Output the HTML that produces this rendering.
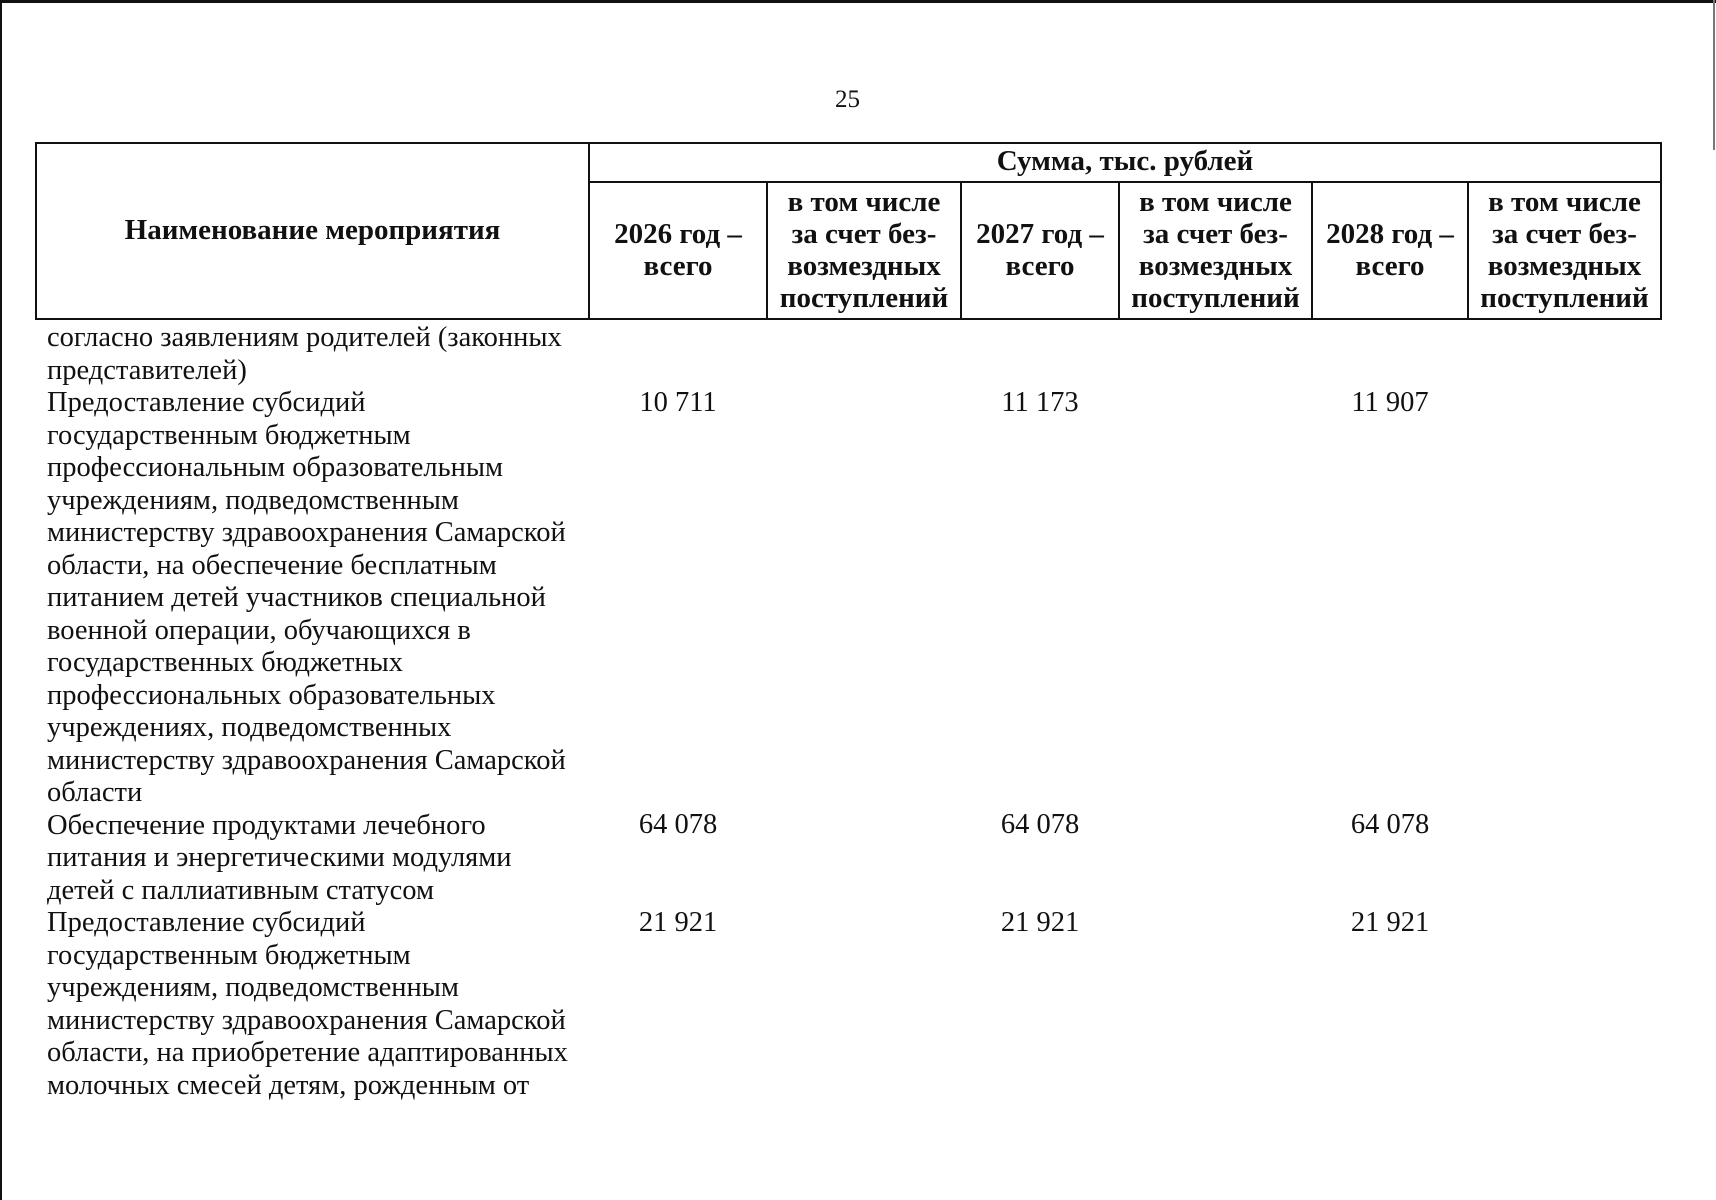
<!DOCTYPE html>
<html><head><meta charset="utf-8"><style>
body{margin:0;width:1716px;height:1200px;background:#fff;position:relative;overflow:hidden;font-family:"Liberation Serif","DejaVu Serif",serif;color:#111}
.a{position:absolute}
.l{position:absolute;background:#111}
.h{position:absolute;font-weight:bold;font-size:29px;line-height:32px;text-align:center;white-space:nowrap}
.body{position:absolute;left:47px;top:322px;font-size:28.5px;line-height:32.5px;white-space:pre}
.n{position:absolute;font-size:28.5px;line-height:32.5px;width:160px;text-align:center}
</style></head><body>
<div class="l" style="left:0;top:0;width:1716px;height:3px"></div>
<div class="l" style="left:0;top:0;width:2px;height:1200px"></div>
<div class="l" style="left:1713px;top:0;width:2px;height:150px;background:#777"></div>
<div class="a" style="left:835px;top:86px;font-size:25px">25</div>
<div class="l" style="left:35px;top:142px;width:1627px;height:2px"></div>
<div class="l" style="left:589px;top:181px;width:1073px;height:2px"></div>
<div class="l" style="left:35px;top:318px;width:1627px;height:2px"></div>
<div class="l" style="left:35px;top:142px;width:2px;height:178px"></div>
<div class="l" style="left:1660px;top:142px;width:2px;height:178px"></div>
<div class="l" style="left:588px;top:142px;width:2px;height:178px"></div>
<div class="l" style="left:766px;top:182px;width:2px;height:138px"></div>
<div class="l" style="left:960px;top:182px;width:2px;height:138px"></div>
<div class="l" style="left:1118px;top:182px;width:2px;height:138px"></div>
<div class="l" style="left:1311px;top:182px;width:2px;height:138px"></div>
<div class="l" style="left:1467px;top:182px;width:2px;height:138px"></div>
<div class="h" style="left:37px;width:551px;top:214px">Наименование мероприятия</div>
<div class="h" style="left:590px;width:1070px;top:145px">Сумма, тыс. рублей</div>
<div class="h" style="left:590px;width:176px;top:218px">2026 год –<br>всего</div>
<div class="h" style="left:768px;width:192px;top:186px">в том числе<br>за счет без-<br>возмездных<br>поступлений</div>
<div class="h" style="left:962px;width:156px;top:218px">2027 год –<br>всего</div>
<div class="h" style="left:1120px;width:191px;top:186px">в том числе<br>за счет без-<br>возмездных<br>поступлений</div>
<div class="h" style="left:1313px;width:154px;top:218px">2028 год –<br>всего</div>
<div class="h" style="left:1469px;width:191px;top:186px">в том числе<br>за счет без-<br>возмездных<br>поступлений</div>
<div class="body">согласно заявлениям родителей (законных
представителей)
Предоставление субсидий
государственным бюджетным
профессиональным образовательным
учреждениям, подведомственным
министерству здравоохранения Самарской
области, на обеспечение бесплатным
питанием детей участников специальной
военной операции, обучающихся в
государственных бюджетных
профессиональных образовательных
учреждениях, подведомственных
министерству здравоохранения Самарской
области
Обеспечение продуктами лечебного
питания и энергетическими модулями
детей с паллиативным статусом
Предоставление субсидий
государственным бюджетным
учреждениям, подведомственным
министерству здравоохранения Самарской
области, на приобретение адаптированных
молочных смесей детям, рожденным от</div>
<div class="n" style="left:598px;top:387px">10 711</div>
<div class="n" style="left:960px;top:387px">11 173</div>
<div class="n" style="left:1310px;top:387px">11 907</div>
<div class="n" style="left:598px;top:809px">64 078</div>
<div class="n" style="left:960px;top:809px">64 078</div>
<div class="n" style="left:1310px;top:809px">64 078</div>
<div class="n" style="left:598px;top:907px">21 921</div>
<div class="n" style="left:960px;top:907px">21 921</div>
<div class="n" style="left:1310px;top:907px">21 921</div>
</body></html>
